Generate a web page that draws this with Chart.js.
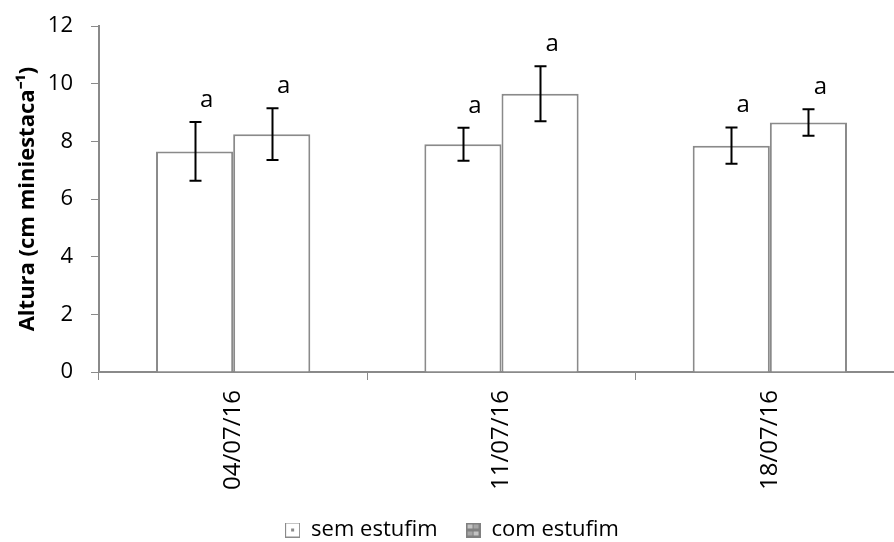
<!DOCTYPE html>
<html>
<head>
<meta charset="utf-8">
<script src="https://cdn.jsdelivr.net/npm/chart.js@4.4.0/dist/chart.umd.min.js"></script>
<style>
  html, body { margin: 0; padding: 0; background: #fff; overflow: hidden; width: 894px; height: 542px; }
  #clip { width: 894px; height: 542px; overflow: hidden; position: relative; }
  #wrap { width: 908px; height: 551px; position: absolute; left: 0; top: 0; }
</style>
</head>
<body>
<div id="clip"><div id="wrap"><canvas id="grafico"></canvas></div></div>
<script>
const datas = ['04/07/16', '11/07/16', '18/07/16'];
const semEstufim = [7.65, 7.9, 7.85];
const comEstufim = [8.25, 9.65, 8.65];
const erroSem = [1.02, 0.57, 0.63];
const erroCom = [0.9, 0.95, 0.46];
const letrasSem = ['a', 'a', 'a'];
const letrasCom = ['a', 'a', 'a'];
const ticksY = [0, 2, 4, 6, 8, 10, 12];

const fonte = "'Open Sans', 'Liberation Sans', sans-serif";

function iconeLegenda(tipo) {
    const c = document.createElement('canvas');
    c.width = 15; c.height = 15;
    const g = c.getContext('2d');
    if (tipo === 0) {
        g.fillStyle = '#fff';
        g.fillRect(0, 0, 15, 15);
        g.strokeStyle = '#8a8a8a';
        g.lineWidth = 1;
        g.strokeRect(0.5, 0.5, 14, 14);
        g.fillStyle = '#8a8a8a';
        g.fillRect(6, 6, 3, 3);
    } else {
        g.fillStyle = '#808080';
        g.fillRect(0, 0, 15, 15);
        g.fillStyle = '#c4c4c4';
        g.fillRect(2, 2, 5, 4);
        g.fillRect(8, 9, 5, 4);
        g.fillStyle = '#a6a6a6';
        g.fillRect(8, 2, 5, 4);
        g.fillRect(2, 9, 5, 4);
    }
    return c;
}

// barras de erro e letras
const barrasErro = {
    id: 'barrasErro',
    afterDatasetsDraw(chart) {
        const ctx = chart.ctx;
        const y = chart.scales.y;
        const erros = [erroSem, erroCom];
        const letras = [letrasSem, letrasCom];
        ctx.save();
        erros.forEach((erro, ds) => {
            const meta = chart.getDatasetMeta(ds);
            meta.data.forEach((bar, i) => {
                const v = chart.data.datasets[ds].data[i];
                const yTop = y.getPixelForValue(v + erro[i]);
                const yBot = y.getPixelForValue(v - erro[i]);
                const x = Math.round(bar.x) + 0.5;
                ctx.strokeStyle = '#000';
                ctx.lineWidth = 2;
                ctx.beginPath();
                ctx.moveTo(x, yTop); ctx.lineTo(x, yBot);
                ctx.moveTo(x - 6, yTop); ctx.lineTo(x + 6, yTop);
                ctx.moveTo(x - 6, yBot); ctx.lineTo(x + 6, yBot);
                ctx.stroke();
                ctx.fillStyle = '#000';
                ctx.font = '24px ' + fonte;
                ctx.textAlign = 'center';
                ctx.textBaseline = 'middle';
                ctx.fillText(letras[ds][i], bar.x + 12, yTop - 22);
            });
        });
        ctx.restore();
    }
};

new Chart(document.getElementById('grafico'), {
    type: 'bar',
    data: {
        labels: datas,
        datasets: [
            {
                label: 'sem estufim',
                data: semEstufim,
                backgroundColor: '#fff',
                borderColor: '#8a8a8a',
                borderWidth: 2,
                pointStyle: iconeLegenda(0),
                categoryPercentage: 0.575,
                barPercentage: 1.0
            },
            {
                label: 'com estufim',
                data: comEstufim,
                backgroundColor: '#fff',
                borderColor: '#8a8a8a',
                borderWidth: 2,
                pointStyle: iconeLegenda(1),
                categoryPercentage: 0.575,
                barPercentage: 1.0
            }
        ]
    },
    options: {
        responsive: true,
        maintainAspectRatio: false,
        animation: false,
        layout: { padding: { top: 26, left: 0, right: 4, bottom: 0 } },
        plugins: {
            legend: {
                position: 'bottom',
                labels: {
                    usePointStyle: true,
                    color: '#000',
                    font: { family: fonte, size: 22 },
                    padding: 28,
                    boxWidth: 15,
                    boxHeight: 15
                }
            },
            tooltip: { enabled: false }
        },
        scales: {
            x: {
                grid: {
                    display: true,
                    drawOnChartArea: false,
                    color: '#8a8a8a',
                    tickLength: 8,
                    offset: true
                },
                border: { color: '#8a8a8a', width: 2 },
                ticks: {
                    color: '#000',
                    font: { family: fonte, size: 24 },
                    minRotation: 90,
                    maxRotation: 90,
                    padding: 10
                },
                afterFit: (scale) => { scale.height = 119; }
            },
            y: {
                min: 0,
                max: 12,
                afterBuildTicks: (scale) => { scale.ticks = ticksY.map(v => ({ value: v })); },
                grid: {
                    display: true,
                    drawOnChartArea: false,
                    color: '#8a8a8a',
                    tickLength: 8
                },
                border: { color: '#8a8a8a', width: 2 },
                ticks: {
                    color: '#000',
                    font: { family: fonte, size: 22 },
                    padding: 18
                },
                title: {
                    display: true,
                    text: 'Altura (cm miniestaca⁻¹)',
                    color: '#000',
                    font: { family: fonte, size: 22, weight: 'bold' },
                    padding: { top: 15, bottom: 0 }
                },
                afterFit: (scale) => {
                    scale.width = 99;
                    scale.paddingTop = 0;
                    scale.paddingBottom = 0;
                }
            }
        }
    },
    plugins: [barrasErro]
});
</script>
</body>
</html>
